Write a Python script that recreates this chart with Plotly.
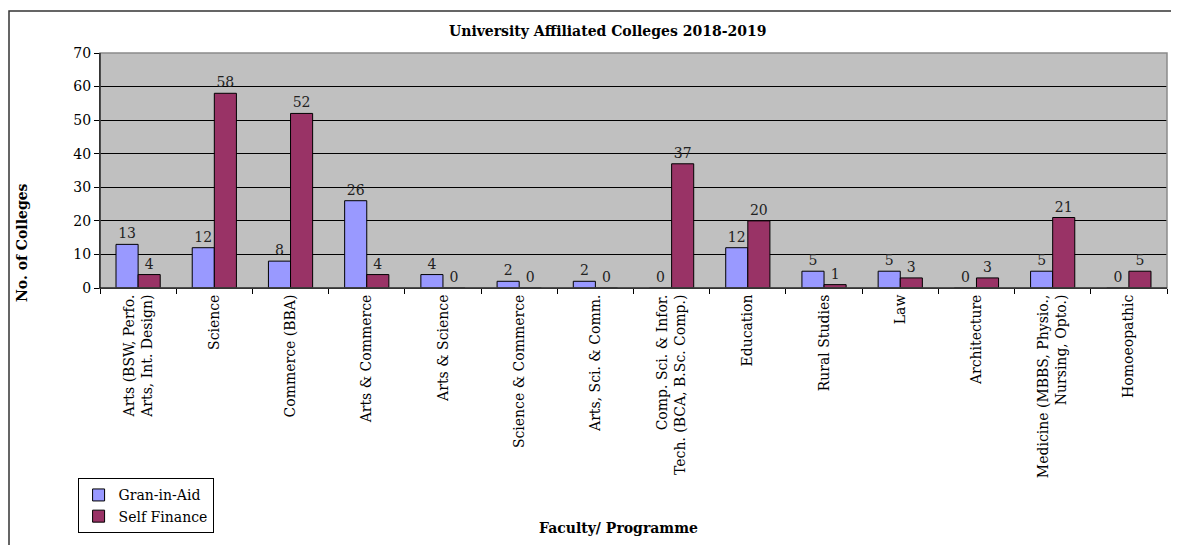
import plotly.graph_objects as go

categories = ["Arts (BSW, Perfo.<br>Arts, Int. Design)", "Science", "Commerce (BBA)",
              "Arts & Commerce", "Arts & Science", "Science & Commerce",
              "Arts, Sci. & Comm.", "Comp. Sci. & Infor.<br>Tech. (BCA, B.Sc. Comp.)",
              "Education", "Rural Studies", "Law", "Architecture",
              "Medicine (MBBS, Physio.,<br>Nursing, Opto.)", "Homoeopathic"]
grant_in_aid = [13, 12, 8, 26, 4, 2, 2, 0, 12, 5, 5, 0, 5, 0]
self_finance = [4, 58, 52, 4, 0, 0, 0, 37, 20, 1, 3, 3, 21, 5]
y_ticks = [0, 10, 20, 30, 40, 50, 60, 70]

SERIF = "DejaVu Serif"

fig = go.Figure()
fig.add_trace(go.Bar(x=categories, y=grant_in_aid, name="Gran-in-Aid",
                     marker=dict(color="#9999FF", line=dict(color="black", width=1)),
                     text=grant_in_aid, textposition="outside", cliponaxis=False,
                     textfont=dict(family=SERIF, size=14, color="#222")))
fig.add_trace(go.Bar(x=categories, y=self_finance, name="Self Finance",
                     marker=dict(color="#993366", line=dict(color="black", width=1)),
                     text=self_finance, textposition="outside", cliponaxis=False,
                     textfont=dict(family=SERIF, size=14, color="#222")))

# page body adds an 8px offset, so the figure is sized/margined to compensate
fig.update_layout(
    width=1171, height=537,
    margin=dict(l=92, r=12, t=45, b=257, autoexpand=False),
    paper_bgcolor="white", plot_bgcolor="#C0C0C0",
    barmode="group", bargap=0.42, bargroupgap=0,
    font=dict(family=SERIF, size=14, color="black"),
    showlegend=True,
    legend=dict(x=-0.021, y=-0.81, xanchor="left", yanchor="top",
                bordercolor="black", borderwidth=1, bgcolor="white",
                font=dict(family=SERIF, size=14), itemwidth=30,
                tracegroupgap=0),
    xaxis=dict(type="category", tickangle=-90, ticks="outside", ticklen=5,
               tickson="boundaries", tickcolor="black", showline=True,
               linecolor="black", linewidth=1, showgrid=False, automargin=False,
               tickfont=dict(family=SERIF, size=14)),
    yaxis=dict(range=[0, 70], tickvals=y_ticks, ticks="outside", ticklen=5,
               tickcolor="black", showline=True, linecolor="black", linewidth=1,
               showgrid=True, gridcolor="black", gridwidth=1, zeroline=False,
               automargin=False, tickfont=dict(family=SERIF, size=14)),
    shapes=[
        dict(type="rect", xref="paper", yref="paper", x0=0, x1=1, y0=0, y1=1,
             line=dict(color="#8a8a8a", width=1.5), layer="above"),
        dict(type="line", xref="paper", yref="paper", x0=0, x1=1, y0=0, y1=0,
             line=dict(color="black", width=1), layer="above"),
        dict(type="line", xref="paper", yref="paper", x0=0, x1=0, y0=0, y1=1,
             line=dict(color="black", width=1), layer="above"),
        dict(type="rect", xref="paper", yref="paper",
             x0=(9 - 100) / 1067, x1=1.2, y0=(288 - 11) / 235, y1=-1.5,
             line=dict(color="#333", width=1.5), layer="below"),
    ],
    annotations=[
        dict(text="<b>University Affiliated Colleges 2018-2019</b>", xref="paper", yref="paper",
             x=(607 - 100) / 1067, y=(288 - 31) / 235, showarrow=False,
             font=dict(family=SERIF, size=14), xanchor="center", yanchor="middle"),
        dict(text="<b>No. of Colleges</b>", xref="paper", yref="paper",
             x=(22 - 100) / 1067, y=(288 - 243) / 235, showarrow=False, textangle=-90,
             font=dict(family=SERIF, size=14), xanchor="center", yanchor="middle"),
        dict(text="<b>Faculty/ Programme</b>", xref="paper", yref="paper",
             x=(618 - 100) / 1067, y=(288 - 528) / 235, showarrow=False,
             font=dict(family=SERIF, size=14), xanchor="center", yanchor="middle"),
    ],
)

fig.write_html("out.html")
